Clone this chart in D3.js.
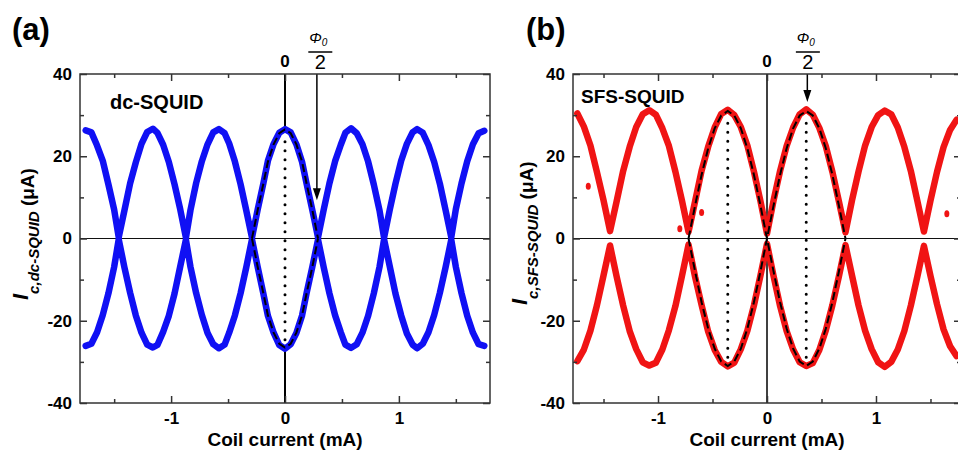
<!DOCTYPE html>
<html>
<head>
<meta charset="utf-8">
<script src="https://cdn.jsdelivr.net/npm/d3@7"></script>
<style>
  body { margin: 0; background: #fff; }
  text { font-family: "Liberation Sans", Arial, sans-serif; }
</style>
</head>
<body>
<div id="graph"></div>
<script>
// Coil current (mA) for the dc-SQUID sweep
const coilA = [-1.75, -1.70, -1.65, -1.60, -1.55, -1.50, -1.46, -1.41, -1.36, -1.31, -1.26, -1.21,
  -1.16, -1.12, -1.07, -1.02, -0.97, -0.92, -0.87, -0.83, -0.78, -0.73, -0.68, -0.63,
  -0.58, -0.53, -0.49, -0.44, -0.39, -0.34, -0.29, -0.24, -0.19, -0.15, -0.10, -0.05,
  0, 0.05, 0.10, 0.15, 0.19, 0.24, 0.29, 0.34, 0.39, 0.44, 0.49, 0.53,
  0.58, 0.63, 0.68, 0.73, 0.78, 0.83, 0.87, 0.92, 0.97, 1.02, 1.07, 1.12,
  1.16, 1.21, 1.26, 1.31, 1.36, 1.41, 1.46, 1.50, 1.55, 1.60, 1.65, 1.70, 1.75];
// Ic+ and Ic- (uA) of the dc-SQUID
const icAUp = [26.3, 25.8, 22.6, 18.9, 13.1, 7.0, 0.3, 6.8, 13.4, 18.5, 23.0, 25.9,
  26.7, 25.7, 22.8, 18.6, 13.2, 7.1, 0.2, 6.9, 13.5, 18.8, 22.9, 25.8,
  26.6, 25.6, 23.1, 18.7, 13.2, 6.8, 0.2, 7.0, 13.4, 18.9, 23.0, 25.7,
  26.6, 25.8, 22.9, 18.6, 13.3, 6.9, 0.3, 7.0, 13.4, 18.8, 22.8, 25.7,
  26.8, 25.6, 22.9, 18.7, 13.1, 6.8, 0.2, 7.0, 13.3, 18.9, 23.0, 25.8,
  26.6, 25.7, 22.7, 18.6, 13.3, 6.9, 0.3, 7.1, 13.4, 18.8, 22.9, 25.6, 26.2];
const icADown = [-26.1, -25.6, -22.8, -18.6, -13.3, -6.9, -0.2, -7.0, -13.2, -18.7, -22.9, -25.8,
  -26.5, -25.9, -22.7, -18.8, -13.4, -6.8, -0.3, -6.9, -13.3, -18.6, -23.0, -25.7,
  -26.7, -25.8, -22.9, -18.7, -13.3, -7.0, -0.2, -6.9, -13.4, -18.8, -22.9, -25.9,
  -26.8, -25.7, -23.0, -18.7, -13.2, -6.9, -0.3, -7.0, -13.3, -18.7, -22.8, -25.8,
  -26.6, -25.7, -22.9, -18.8, -13.3, -6.9, -0.2, -6.8, -13.4, -18.7, -23.1, -25.8,
  -26.7, -25.6, -22.8, -18.6, -13.2, -7.0, -0.3, -6.9, -13.3, -18.8, -22.9, -25.7, -26.1];
// Fit of the central lobe (dashed)
const fitAX = [-0.29, -0.24, -0.19, -0.15, -0.10, -0.05, 0, 0.05, 0.10, 0.15, 0.19, 0.24, 0.29];
const fitAUp = [0, 6.9, 13.3, 18.7, 22.9, 25.6, 26.5, 25.6, 22.9, 18.7, 13.3, 6.9, 0];
const fitADown = [0, -6.9, -13.3, -18.7, -22.9, -25.6, -26.5, -25.6, -22.9, -18.7, -13.3, -6.9, 0];

// Coil current (mA) for the SFS-SQUID sweep
const coilB = [-1.74, -1.68, -1.62, -1.56, -1.50, -1.44, -1.38, -1.32, -1.26, -1.20, -1.14, -1.08,
  -1.02, -0.96, -0.90, -0.84, -0.78, -0.72, -0.66, -0.60, -0.54, -0.48, -0.42, -0.36,
  -0.30, -0.24, -0.18, -0.12, -0.06, 0, 0.06, 0.12, 0.18, 0.24, 0.30, 0.36,
  0.42, 0.48, 0.54, 0.60, 0.66, 0.72, 0.78, 0.84, 0.90, 0.96, 1.02, 1.08,
  1.14, 1.20, 1.26, 1.32, 1.38, 1.44, 1.50, 1.56, 1.62, 1.68, 1.74];
const icBUp = [30.4, 27.2, 22.6, 16.1, 9.3, 1.8, 9.0, 16.4, 22.3, 27.1, 30.2, 31.2,
  30.1, 26.8, 22.5, 16.2, 9.2, 1.6, 9.0, 16.5, 22.3, 27.0, 30.3, 31.3,
  30.0, 27.1, 22.6, 16.3, 9.1, 1.2, 9.2, 16.4, 22.5, 27.0, 30.2, 31.4,
  30.1, 26.9, 22.4, 16.2, 9.0, 1.5, 9.3, 16.3, 22.6, 27.1, 30.0, 31.1,
  30.2, 27.0, 22.3, 16.4, 9.1, 1.7, 9.2, 16.2, 22.2, 26.4, 28.9];
const icBDown = [-29.8, -27.0, -22.4, -16.2, -9.0, -1.7, -9.2, -16.3, -22.5, -26.9, -30.1, -30.9,
  -30.2, -27.0, -22.3, -16.4, -9.1, -1.5, -9.3, -16.2, -22.6, -27.1, -30.0, -31.1,
  -30.2, -26.9, -22.4, -16.3, -9.0, -1.3, -9.1, -16.4, -22.5, -27.0, -30.1, -31.0,
  -30.3, -27.1, -22.3, -16.2, -9.2, -1.6, -9.0, -16.3, -22.4, -26.9, -30.1, -31.2,
  -30.0, -27.0, -22.5, -16.3, -9.2, -1.8, -9.1, -16.0, -22.1, -26.2, -28.6];
// Stray points
const strayBX = [-1.64, -0.80, -0.60, 1.65];
const strayBY = [12.7, 2.4, 6.3, 6.0];
// Fit of the two central lobes (dashed)
const fitBX = [-0.72, -0.66, -0.60, -0.54, -0.48, -0.42, -0.36, -0.30, -0.24, -0.18, -0.12, -0.06,
  0, 0.06, 0.12, 0.18, 0.24, 0.30, 0.36, 0.42, 0.48, 0.54, 0.60, 0.66, 0.72];
const fitBUp = [0, 8.0, 15.5, 21.9, 26.8, 29.9, 31.0, 29.9, 26.8, 21.9, 15.5, 8.0,
  0, 8.0, 15.5, 21.9, 26.8, 29.9, 31.0, 29.9, 26.8, 21.9, 15.5, 8.0, 0];
const fitBDown = [0, -8.0, -15.5, -21.9, -26.8, -29.9, -31.0, -29.9, -26.8, -21.9, -15.5, -8.0,
  0, -8.0, -15.5, -21.9, -26.8, -29.9, -31.0, -29.9, -26.8, -21.9, -15.5, -8.0, 0];

// Ticks
const xMajor = [-1, 0, 1];
const xMinor = [-1.5, -0.5, 0.5, 1.5];
const yMajor = [-40, -20, 0, 20, 40];
const yMinor = [-30, -10, 10, 30];

const width = 958;
const height = 451;

const svg = d3.select('#graph')
    .append('svg')
    .attr('width', width)
    .attr('height', height);

// Panel (a)
drawPanel({
  left: 80, right: 490, top: 74, bottom: 403,
  xDomain: [-1.8, 1.8],
  color: '#1010f4',
  xs: coilA, up: icAUp, down: icADown,
  fitX: fitAX, fitUp: fitAUp, fitDown: fitADown,
  dotted: [0], dottedTop: 26.5,
  vSplit: true,
  arrowX: 0.28, arrowTip: 9.3, arrowLabelX: 0.31,
  tag: '(a)', tagX: 12,
  name: 'dc-SQUID', nameX: 110, nameY: 109, nameSize: 20,
  sub: 'c,dc-SQUID', labelX: 28, labelY: 300
});

// Panel (b)
drawPanel({
  left: 573, right: 961, top: 74, bottom: 403,
  xDomain: [-1.78, 1.78],
  color: '#f01414',
  xs: coilB, up: icBUp, down: icBDown,
  fitX: fitBX, fitUp: fitBUp, fitDown: fitBDown,
  dotted: [-0.36, 0.36], dottedTop: 31,
  vSplit: false,
  arrowX: 0.37, arrowTip: 33.2, arrowLabelX: 0.375,
  tag: '(b)', tagX: 526,
  name: 'SFS-SQUID', nameX: 581, nameY: 103, nameSize: 19,
  sub: 'c,SFS-SQUID', labelX: 527, labelY: 305,
  strayX: strayBX, strayY: strayBY
});

function drawPanel(p) {
  const x = d3.scaleLinear().domain(p.xDomain).range([p.left, p.right]);
  const y = d3.scaleLinear().domain([-40, 40]).range([p.bottom, p.top]);
  const g = svg.append('g');
  const font = '"Liberation Sans", Arial, sans-serif';

  const clipId = 'clip' + p.left;
  g.append('clipPath').attr('id', clipId)
    .append('rect')
      .attr('x', p.left).attr('y', p.top)
      .attr('width', p.right - p.left).attr('height', p.bottom - p.top);

  // zero line
  g.append('line')
      .attr('x1', p.left).attr('x2', p.right)
      .attr('y1', y(0)).attr('y2', y(0))
      .attr('stroke', '#111').attr('stroke-width', 1.2);

  // vertical line at zero coil current
  if (p.vSplit) {
    g.append('line')
        .attr('x1', x(0)).attr('x2', x(0))
        .attr('y1', y(40)).attr('y2', y(p.dottedTop))
        .attr('stroke', '#000').attr('stroke-width', 2);
    g.append('line')
        .attr('x1', x(0)).attr('x2', x(0))
        .attr('y1', y(-p.dottedTop)).attr('y2', y(-40))
        .attr('stroke', '#000').attr('stroke-width', 2);
  } else {
    g.append('line')
        .attr('x1', x(0)).attr('x2', x(0))
        .attr('y1', y(40)).attr('y2', y(-40))
        .attr('stroke', '#000').attr('stroke-width', 1.5);
  }

  // measured curves
  const line = d3.line()
      .x(d => x(d[0]))
      .y(d => y(d[1]));
  const upPts = p.xs.map((v, i) => [v, p.up[i]]);
  const downPts = p.xs.map((v, i) => [v, p.down[i]]);
  [upPts, downPts].forEach(pts => {
    g.append('path')
        .attr('d', line(pts))
        .attr('fill', 'none')
        .attr('stroke', p.color)
        .attr('stroke-width', 6.5)
        .attr('stroke-linejoin', 'round')
        .attr('stroke-linecap', 'round')
        .attr('clip-path', 'url(#' + clipId + ')');
  });

  if (p.strayX) {
    g.selectAll('.stray')
        .data(p.strayX.map((v, i) => [v, p.strayY[i]]))
        .enter()
        .append('ellipse')
        .attr('cx', d => x(d[0]))
        .attr('cy', d => y(d[1]))
        .attr('rx', 2.5).attr('ry', 3.5)
        .attr('fill', p.color);
  }

  // dashed fits
  [p.fitUp, p.fitDown].forEach(vals => {
    g.append('path')
        .attr('d', line(p.fitX.map((v, i) => [v, vals[i]])))
        .attr('fill', 'none')
        .attr('stroke', '#000')
        .attr('stroke-width', 2)
        .attr('stroke-dasharray', '8,4');
  });

  // dotted verticals between the peaks
  p.dotted.forEach(v => {
    g.append('line')
        .attr('x1', x(v)).attr('x2', x(v))
        .attr('y1', y(p.dottedTop - 3)).attr('y2', y(-p.dottedTop + 1))
        .attr('stroke', '#000')
        .attr('stroke-width', 3)
        .attr('stroke-linecap', 'round')
        .attr('stroke-dasharray', '0,9');
  });

  // arrow marking phi0/2
  g.append('line')
      .attr('x1', x(p.arrowX)).attr('x2', x(p.arrowX))
      .attr('y1', y(40)).attr('y2', y(p.arrowTip) - 10)
      .attr('stroke', '#000').attr('stroke-width', 1.5);
  g.append('path')
      .attr('d', 'M' + (x(p.arrowX) - 4) + ',' + (y(p.arrowTip) - 12) +
                 'L' + (x(p.arrowX) + 4) + ',' + (y(p.arrowTip) - 12) +
                 'L' + x(p.arrowX) + ',' + y(p.arrowTip) + 'Z')
      .attr('fill', '#000');

  // frame
  g.append('rect')
      .attr('x', p.left).attr('y', p.top)
      .attr('width', p.right - p.left).attr('height', p.bottom - p.top)
      .attr('fill', 'none').attr('stroke', '#333').attr('stroke-width', 1.5);

  // axes, ticks pointing inward
  const addAxis = (axis, tr, labels) => {
    const a = g.append('g').attr('transform', tr).call(axis);
    a.select('.domain').remove();
    a.selectAll('line').attr('stroke', '#333').attr('stroke-width', 1.5);
    a.selectAll('text')
        .attr('fill', '#000')
        .style('font-family', font)
        .style('font-size', '17px')
        .style('font-weight', 'bold');
    if (!labels) a.selectAll('text').remove();
  };
  const fmt = d => String(d);
  addAxis(d3.axisBottom(x).tickValues(xMajor).tickSize(-7).tickPadding(9).tickFormat(fmt),
      'translate(0,' + p.bottom + ')', true);
  addAxis(d3.axisBottom(x).tickValues(xMinor).tickSize(-4), 'translate(0,' + p.bottom + ')', false);
  addAxis(d3.axisTop(x).tickValues(xMajor).tickSize(-7), 'translate(0,' + p.top + ')', false);
  addAxis(d3.axisTop(x).tickValues(xMinor).tickSize(-4), 'translate(0,' + p.top + ')', false);
  addAxis(d3.axisLeft(y).tickValues(yMajor).tickSize(-7).tickPadding(8).tickFormat(fmt),
      'translate(' + p.left + ',0)', true);
  addAxis(d3.axisLeft(y).tickValues(yMinor).tickSize(-4), 'translate(' + p.left + ',0)', false);
  addAxis(d3.axisRight(y).tickValues(yMajor).tickSize(-7), 'translate(' + p.right + ',0)', false);
  addAxis(d3.axisRight(y).tickValues(yMinor).tickSize(-4), 'translate(' + p.right + ',0)', false);

  // "0" above the plot
  g.append('text')
      .attr('x', x(0)).attr('y', 67)
      .attr('text-anchor', 'middle')
      .style('font-size', '17px').style('font-weight', 'bold')
      .text('0');

  // phi0 / 2 fraction
  const fx = x(p.arrowLabelX);
  const phi = g.append('text')
      .attr('x', fx - 2).attr('y', 43)
      .attr('text-anchor', 'middle')
      .style('font-size', '15px').style('font-style', 'italic');
  phi.append('tspan').text('Φ');
  phi.append('tspan').attr('dy', 3).style('font-size', '10px').text('0');
  g.append('line')
      .attr('x1', fx - 12).attr('x2', fx + 12)
      .attr('y1', 52).attr('y2', 52)
      .attr('stroke', '#000').attr('stroke-width', 1.5);
  g.append('text')
      .attr('x', fx).attr('y', 69)
      .attr('text-anchor', 'middle')
      .style('font-size', '20px')
      .text('2');

  // panel tag and sample name
  g.append('text')
      .attr('x', p.tagX).attr('y', 40)
      .style('font-size', '31px').style('font-weight', 'bold')
      .text(p.tag);
  g.append('text')
      .attr('x', p.nameX).attr('y', p.nameY)
      .style('font-size', p.nameSize + 'px').style('font-weight', 'bold')
      .text(p.name);

  // x axis title
  g.append('text')
      .attr('x', x(0)).attr('y', 446)
      .attr('text-anchor', 'middle')
      .style('font-size', '19px').style('font-weight', 'bold')
      .text('Coil current (mA)');

  // y axis title
  const yl = g.append('text')
      .attr('transform', 'translate(' + p.labelX + ',' + p.labelY + ') rotate(-90)')
      .style('font-weight', 'bold');
  yl.append('tspan').style('font-size', '22px').style('font-style', 'italic').text('I');
  yl.append('tspan').attr('dy', 11).style('font-size', '15px').style('font-style', 'italic').text(p.sub);
  yl.append('tspan').attr('dy', -5).style('font-size', '19px').text(' (μA)');
}
</script>
</body>
</html>
